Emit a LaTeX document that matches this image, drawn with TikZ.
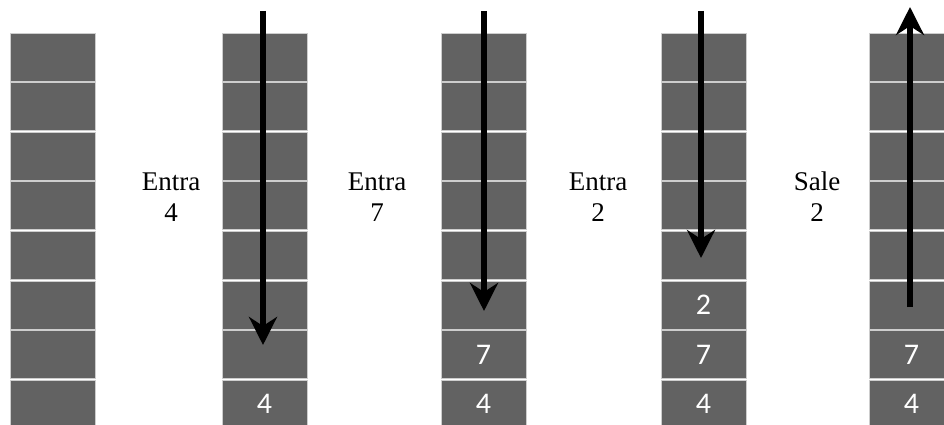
\documentclass[tikz,border=0pt]{standalone}
\usepackage{fontspec}
\setmainfont{Liberation Serif}
\newfontfamily\digitfont{Carlito}
\usetikzlibrary{arrows.meta}
\definecolor{cellgray}{RGB}{98,98,98}
\definecolor{celledge}{RGB}{205,205,205}
\tikzset{
  cell/.style={rectangle, fill=cellgray, draw=celledge, line width=0.8pt,
    minimum width=85pt, minimum height=48pt, inner sep=0pt, outer sep=0pt,
    font=\digitfont\fontsize{30}{30}\selectfont, text=white},
  lbl/.style={align=center, font=\fontsize{27}{31}\selectfont, inner sep=0pt},
  flow/.style={line width=6pt, -{Stealth[length=28pt,width=28pt,inset=9pt]}}
}
\begin{document}
\begin{tikzpicture}[x=1pt,y=-1pt]
\useasboundingbox (0,0) rectangle (944,425);
\clip (0,0) rectangle (944,425);
\fill[white] (0,0) rectangle (944,425);
% columns
\foreach \c/\x in {1/10,2/222,3/441,4/661,5/869}{
  \foreach \r in {1,...,8}{
    \node[cell] (c\c-\r) at ({\x+42.5},{33+24+(\r-1)*49.6}) {};
  }
}
% contents
\node[cell] at (c2-8) {4};
\node[cell] at (c3-8) {4};
\node[cell] at (c3-7) {7};
\node[cell] at (c4-8) {4};
\node[cell] at (c4-7) {7};
\node[cell] at (c4-6) {2};
\node[cell] at (c5-8) {4};
\node[cell] at (c5-7) {7};
% labels
\node[lbl] (t1) at (171,197) {Entra\\4};
\node[lbl] (t2) at (377,197) {Entra\\7};
\node[lbl] (t3) at (598,197) {Entra\\2};
\node[lbl] (t4) at (817,197) {Sale\\2};
% arrows
\coordinate (a1s) at (263,11); \coordinate (a1e) at (263,345);
\coordinate (a2s) at (484,11); \coordinate (a2e) at (484,311);
\coordinate (a3s) at (701,11); \coordinate (a3e) at (701,258);
\coordinate (a4s) at (910,307); \coordinate (a4e) at (910,7);
\draw[flow] (a1s) -- (a1e);
\draw[flow] (a2s) -- (a2e);
\draw[flow] (a3s) -- (a3e);
\draw[flow] (a4s) -- (a4e);
\end{tikzpicture}
\end{document}
